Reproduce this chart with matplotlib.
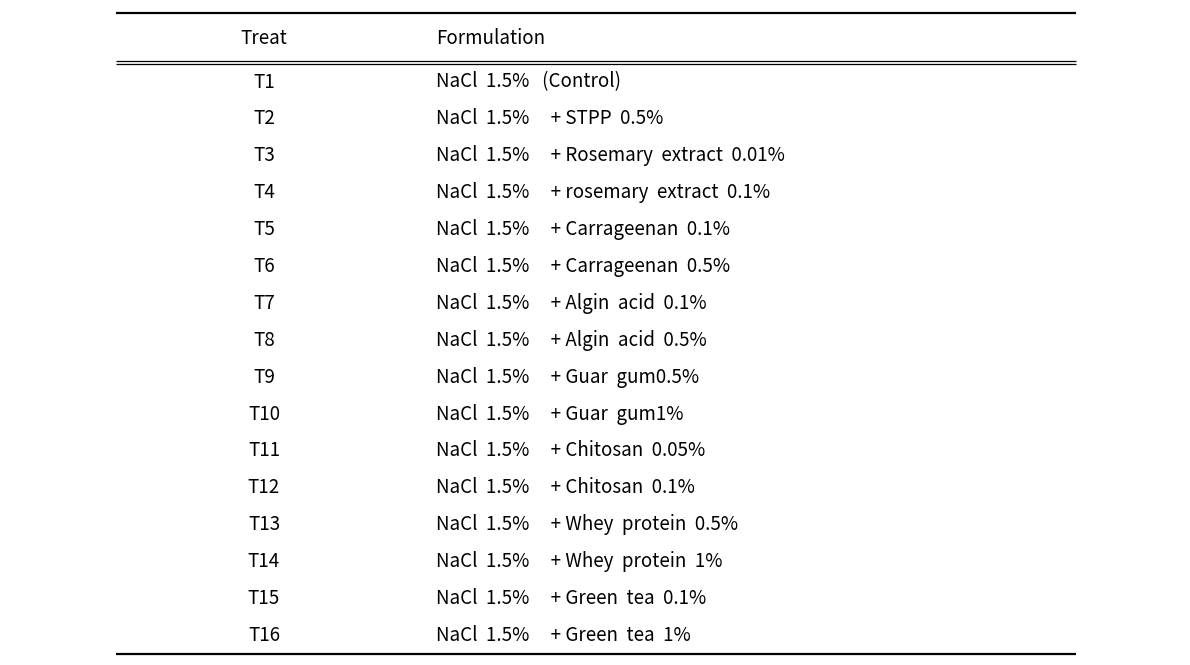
import matplotlib
matplotlib.use("Agg")
import matplotlib.pyplot as plt

plt.rcParams['font.family'] = ['Noto Sans CJK KR', 'DejaVu Sans']

headers = ["Treat", "Formulation"]
treats = ["T1", "T2", "T3", "T4", "T5", "T6", "T7", "T8",
          "T9", "T10", "T11", "T12", "T13", "T14", "T15", "T16"]
formulations = [
    "NaCl 1.5% (Control)",
    "NaCl 1.5% + STPP 0.5%",
    "NaCl 1.5% + Rosemary extract 0.01%",
    "NaCl 1.5% + rosemary extract 0.1%",
    "NaCl 1.5% + Carrageenan 0.1%",
    "NaCl 1.5% + Carrageenan 0.5%",
    "NaCl 1.5% + Algin acid 0.1%",
    "NaCl 1.5% + Algin acid 0.5%",
    "NaCl 1.5% + Guar gum0.5%",
    "NaCl 1.5% + Guar gum1%",
    "NaCl 1.5% + Chitosan 0.05%",
    "NaCl 1.5% + Chitosan 0.1%",
    "NaCl 1.5% + Whey protein 0.5%",
    "NaCl 1.5% + Whey protein 1%",
    "NaCl 1.5% + Green tea 0.1%",
    "NaCl 1.5% + Green tea 1%",
]

W, H = 1190, 665
fig = plt.figure(figsize=(W / 100, H / 100), dpi=100)
ax = fig.add_axes([0, 0, 1, 1])
ax.set_xlim(0, W)
ax.set_ylim(H, 0)
ax.axis('off')

x0, x1 = 116, 1076
col_treat = 264
col_form = 436
fs = 13.5
dy = 2


def spaced(s):
    # mimic the original typesetting's word gaps
    s = s.replace(" + ", "\x00").replace(" (", "\x01")
    s = s.replace(" ", "  ")
    s = s.replace("\x00", "     + ").replace("\x01", "   (")
    return s


# rules
ax.hlines(13, x0, x1, color='black', lw=1.6)
ax.hlines(61, x0, x1, color='black', lw=0.9)
ax.hlines(64, x0, x1, color='black', lw=0.9)
ax.hlines(654, x0, x1, color='black', lw=1.6)

header_y = 37
ax.text(col_treat, header_y + dy, headers[0], ha='center', va='center', fontsize=fs)
ax.text(col_form, header_y + dy, headers[1], ha='left', va='center', fontsize=fs)

y_first, y_step = 80, 36.9
for i, (t, f) in enumerate(zip(treats, formulations)):
    y = y_first + i * y_step + dy
    ax.text(col_treat, y, t, ha='center', va='center', fontsize=fs)
    ax.text(col_form, y, spaced(f), ha='left', va='center', fontsize=fs)

fig.savefig("out.png", dpi=100)
